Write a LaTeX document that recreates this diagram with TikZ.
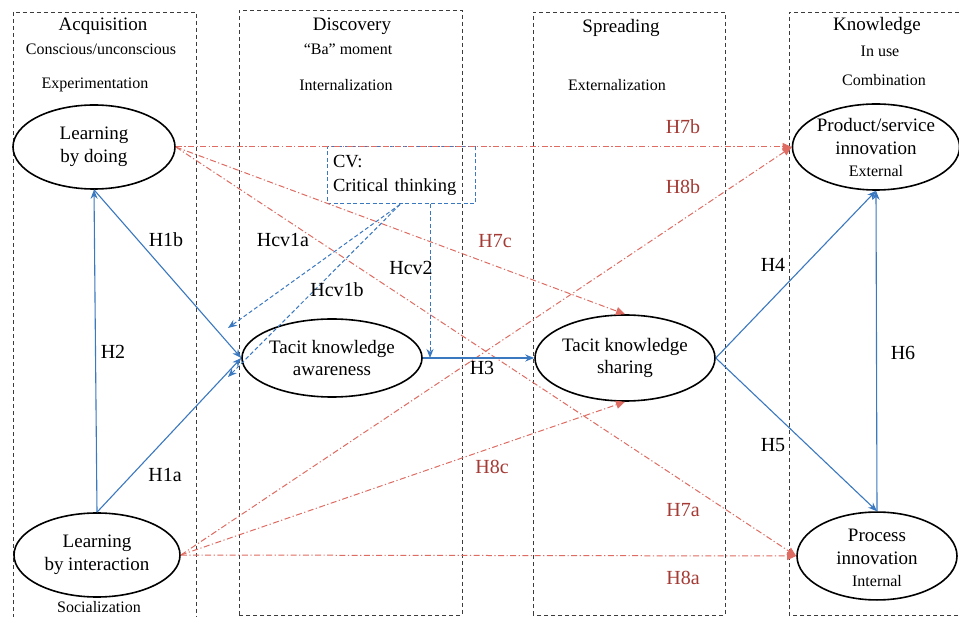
\documentclass[tikz,border=0pt]{standalone}
\usepackage{fontspec}
\setmainfont{Liberation Serif}
\usetikzlibrary{arrows.meta,shapes.geometric}
\definecolor{cblue}{RGB}{58,120,192}
\definecolor{cred}{RGB}{222,108,98}
\definecolor{cdark}{RGB}{165,58,52}
\definecolor{cgray}{RGB}{60,60,60}
\newcommand{\fbig}{\fontsize{19}{22.5}\selectfont}
\newcommand{\flab}{\fontsize{20}{22}\selectfont}
\newcommand{\fmid}{\fontsize{16}{19}\selectfont}
\newcommand{\fsmall}{\fontsize{16}{19}\selectfont}
\tikzset{
  stagebox/.style={draw=cgray, line width=0.9pt, dash pattern=on 4pt off 3pt},
  concept/.style={ellipse, draw=black, line width=1.6pt, inner sep=0pt, align=center, font=\fbig},
  blueline/.style={draw=cblue, line width=1.1pt, -{Stealth[length=9pt,width=7pt]}},
  bluedash/.style={draw=cblue, line width=1pt, dash pattern=on 4pt off 2.5pt, -{Stealth[length=9pt,width=7pt]}},
  redline/.style={draw=cred, line width=1pt, dash pattern=on 6pt off 2.5pt on 1.2pt off 2.5pt, -{Triangle[length=9pt,width=8pt]}},
  hlab/.style={font=\flab, text=black, inner sep=1pt},
  rlab/.style={font=\flab, text=cdark, inner sep=1pt},
  head/.style={font=\fbig, inner sep=0pt},
  sub/.style={font=\fmid, inner sep=0pt},
  sub2/.style={font=\fsmall, inner sep=0pt}
}
\begin{document}
\begin{tikzpicture}[x=1pt,y=-1pt]
\useasboundingbox[fill=white] (0,0) rectangle (959,617);
% stage boxes
\draw[stagebox] (13,625) -- (13,12) -- (196,12) -- (196,625);
\draw[stagebox] (239,615) rectangle (462,10);
\draw[stagebox] (533,615) rectangle (725,12);
\draw[stagebox] (965,615) -- (789,615) -- (789,12) -- (965,12);
% headers
\node[head] (h1) at (103,26) {Acquisition};
\node[sub]  (h1a) at (101,49) {Conscious/unconscious};
\node[sub2] (h1b) at (95,85) {Experimentation};
\node[head] (h2) at (352,26) {Discovery};
\node[sub]  (h2a) at (348,49) {“Ba” moment};
\node[sub2] (h2b) at (346,85) {Internalization};
\node[head] (h3) at (621,28) {Spreading};
\node[sub2] (h3b) at (617,85) {Externalization};
\node[head] (h4) at (877,26) {Knowledge};
\node[sub]  (h4a) at (880,51) {In use};
\node[sub2] (h4b) at (884,80) {Combination};
% concepts
\node[concept, minimum width=162pt, minimum height=84pt] (doing) at (94,147) {Learning\\by doing};
\node[concept, minimum width=166pt, minimum height=84pt] (inter) at (97,555) {Learning\\by interaction};
\node[sub2] (soc) at (99,607) {Socialization};
\node[concept, minimum width=180pt, minimum height=78pt] (aware) at (332,358) {Tacit knowledge\\awareness};
\node[concept, minimum width=180pt, minimum height=86pt] (share) at (625,358) {Tacit knowledge\\sharing};
\node[concept, minimum width=162pt, minimum height=86pt] (prod) at (876,147) {\raisebox{0pt}[15pt][0pt]{}Product/service\\innovation\\[0pt]{\fsmall External}\raisebox{0pt}[0pt][0pt]{}};
\node[concept, minimum width=160pt, minimum height=84pt] (proc) at (877,556) {\raisebox{0pt}[17pt][0pt]{}Process\\innovation\\[0pt]{\fsmall Internal}};
% CV box
\node[draw=cblue, line width=1pt, dash pattern=on 4pt off 2.5pt, minimum width=148pt, minimum height=57pt, inner sep=6pt, align=left, font=\fontsize{18.5}{24}\selectfont, text width=136pt] (cv) at (401,175.5) {CV:\\Critical thinking};
% red dash-dot paths
\draw[redline] (doing.east) -- (prod.west);
\draw[redline] (doing.east) -- (share.north);
\draw[redline] (doing.east) -- (proc.west);
\draw[redline] (inter.east) -- (prod.west);
\draw[redline] (inter.east) -- (share.south);
\draw[redline] (inter.east) -- (proc.west);
% blue solid paths
\draw[blueline] (inter.north) -- (doing.south);
\draw[blueline] (doing.south) -- (aware.west);
\draw[blueline] (inter.north) -- (aware.west);
\draw[blueline] (aware.east) -- (share.west);
\draw[blueline] (share.east) -- (prod.south);
\draw[blueline] (share.east) -- (proc.north);
\draw[blueline] (proc.north) -- (prod.south);
% blue dashed moderator paths
\coordinate (cvs) at ([xshift=-1pt]cv.south);
\coordinate (cv2) at ([xshift=29pt]cv.south);
\coordinate (e1a) at (228,328);
\coordinate (e1b) at (228,377);
\draw[bluedash] (cvs) -- (e1a);
\draw[bluedash] (cvs) -- (e1b);
\draw[bluedash] (cv2) -- (cv2 |- aware.east);
% labels
\node[hlab] (lh1b) at (166,240) {H1b};
\node[hlab] (lh2) at (113,352) {H2};
\node[hlab] (lh1a) at (165,475) {H1a};
\node[hlab] (lcv1a) at (283,240) {Hcv1a};
\node[hlab] (lcv1b) at (337,290) {Hcv1b};
\node[hlab] (lcv2) at (411,268) {Hcv2};
\node[hlab] (lh3) at (482,368) {H3};
\node[hlab] (lh4) at (773,265) {H4};
\node[hlab] (lh5) at (773,445) {H5};
\node[hlab] (lh6) at (903,353) {H6};
\node[rlab] (lh7b) at (683,127) {H7b};
\node[rlab] (lh8b) at (683,187) {H8b};
\node[rlab] (lh7c) at (495,241) {H7c};
\node[rlab] (lh8c) at (492,467) {H8c};
\node[rlab] (lh7a) at (683,510) {H7a};
\node[rlab] (lh8a) at (683,578) {H8a};
\end{tikzpicture}
\end{document}
